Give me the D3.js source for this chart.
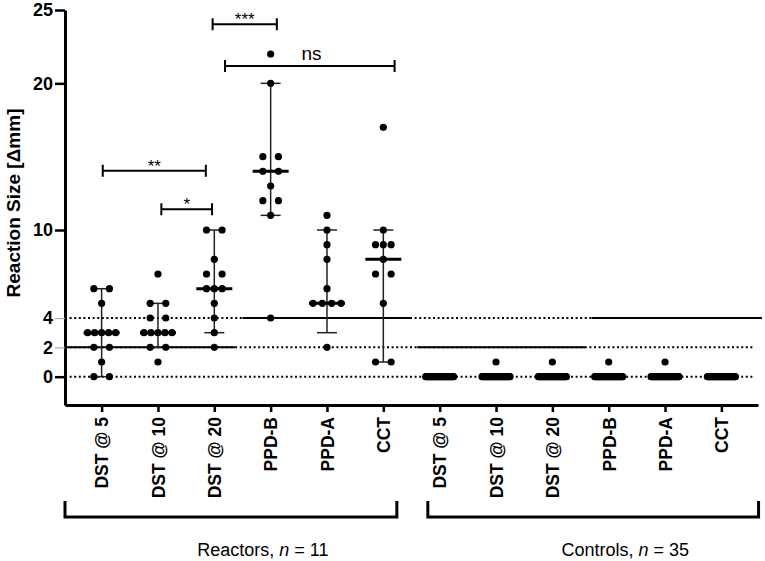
<!DOCTYPE html>
<html>
<head>
<meta charset="utf-8">
<script src="https://cdn.jsdelivr.net/npm/d3@7"></script>
<style>
  html, body { margin: 0; padding: 0; background: #fff; }
  svg { display: block; font-family: "Liberation Sans", Arial, Helvetica, sans-serif; }
</style>
</head>
<body>
<svg id="chart" width="765" height="561"></svg>
<script>
// ---------------- data ----------------
const categories = ["DST @ 5", "DST @ 10", "DST @ 20", "PPD-B", "PPD-A", "CCT"];
const groupNames = ["Reactors", "Controls"];
const groupN = [11, 35];

// Reactors: individual reaction sizes (mm)
const reactorDST5  = [6, 6, 5, 3, 3, 3, 3, 3, 2, 2, 1, 0, 0];
const reactorDST10 = [7, 5, 5, 4, 4, 3, 3, 3, 3, 3, 2, 2, 1];
const reactorDST20 = [10, 10, 8, 7, 7, 6, 6, 6, 5, 4, 3, 2];
const reactorPPDB  = [22, 20, 15, 15, 14, 14, 13, 12, 12, 11, 4];
const reactorPPDA  = [11, 10, 9, 8, 6, 5, 5, 5, 5, 2];
const reactorCCT   = [17, 10, 9, 9, 9, 8, 7, 7, 5, 1, 1];

// Controls: tallies of reaction sizes (count at 0 mm, count at 1 mm)
const controlCountAt0 = [35, 34, 34, 34, 34, 35];
const controlCountAt1 = [0, 1, 1, 1, 1, 0];

// Median and whisker limits per column (reactors then controls)
const medians     = [3, 3, 6, 14, 5, 8, 0, 0, 0, 0, 0, 0];
const whiskerLow  = [0, 2, 3, 11, 3, 1, 0, 0, 0, 0, 0, 0];
const whiskerHigh = [6, 5, 10, 20, 10, 10, 0, 0, 0, 0, 0, 0];

// Positivity cut-offs (mm): DST columns and PPD/CCT columns
const cutoffDST = 2;
const cutoffPPD = 4;

// Significance annotations
const sigLabels = ["**", "*", "***", "ns"];
const sigLevel  = [14.04, 11.41, 24.02, 21.18];

const yTicks = [0, 2, 4, 10, 20, 25];

// ---------------- layout ----------------
const svg = d3.select("#chart");
const font = '"Liberation Sans", Arial, Helvetica, sans-serif';

const x = d3.scaleLinear().domain([-0.65, 11.65]).range([65, 758]);
const y = d3.scaleLinear().domain([-1.93, 25]).range([405, 10]);

const reactorSets = [reactorDST5, reactorDST10, reactorDST20, reactorPPDB, reactorPPDA, reactorCCT];
const controlSets = controlCountAt0.map((c0, i) => {
  const arr = [];
  for (let k = 0; k < c0; k++) arr.push(0);
  for (let k = 0; k < controlCountAt1[i]; k++) arr.push(1);
  return arr;
});
const columns = reactorSets.concat(controlSets);

// dot layout: group identical values into rows and spread horizontally
const dotR = 3.6, dotStep = 7.8, maxSpread = 28;
const dots = [];
columns.forEach((vals, ci) => {
  const rows = d3.rollup(vals, v => v.length, d => d);
  rows.forEach((k, v) => {
    let span = (k - 1 + (k % 2 === 0 ? 1 : 0)) * dotStep;
    span = Math.min(span, maxSpread);
    for (let j = 0; j < k; j++) {
      const off = k === 1 ? 0 : -span / 2 + j * span / (k - 1);
      dots.push({ cx: x(ci) + off, cy: y(v) });
    }
  });
});

// ---------------- reference lines ----------------
const ref = svg.append("g");
[0, cutoffDST, cutoffPPD].forEach(v => {
  ref.append("line")
    .attr("x1", x(-0.65)).attr("x2", x(11.55))
    .attr("y1", y(v)).attr("y2", y(v))
    .attr("stroke", "#000").attr("stroke-width", 2)
    .attr("stroke-dasharray", "2,2.6");
});
const cutSegs = [
  { v: cutoffDST, a: -0.65, b: 2.37 },
  { v: cutoffPPD, a: 2.5,  b: 5.5 },
  { v: cutoffDST, a: 5.6,  b: 8.58 },
  { v: cutoffPPD, a: 8.7,  b: 11.72 }
];
cutSegs.forEach(s => {
  ref.append("line")
    .attr("x1", x(s.a)).attr("x2", x(s.b))
    .attr("y1", y(s.v)).attr("y2", y(s.v))
    .attr("stroke", "#000").attr("stroke-width", 2);
});

// ---------------- whiskers & medians ----------------
const stats = svg.append("g");
d3.range(12).forEach(i => {
  if (whiskerHigh[i] > whiskerLow[i]) {
    stats.append("line")
      .attr("x1", x(i)).attr("x2", x(i))
      .attr("y1", y(whiskerLow[i])).attr("y2", y(whiskerHigh[i]))
      .attr("stroke", "#222").attr("stroke-width", 1.5);
    [whiskerLow[i], whiskerHigh[i]].forEach(v => {
      stats.append("line")
        .attr("x1", x(i) - 10).attr("x2", x(i) + 10)
        .attr("y1", y(v)).attr("y2", y(v))
        .attr("stroke", "#222").attr("stroke-width", 1.5);
    });
    stats.append("line")
      .attr("x1", x(i) - 18).attr("x2", x(i) + 18)
      .attr("y1", y(medians[i])).attr("y2", y(medians[i]))
      .attr("stroke", "#000").attr("stroke-width", 3);
  }
});

// ---------------- dots ----------------
svg.append("g").selectAll("circle").data(dots).join("circle")
  .attr("cx", d => d.cx).attr("cy", d => d.cy).attr("r", dotR)
  .attr("fill", "#000");

// ---------------- axes ----------------
const yAxis = svg.append("g")
  .attr("transform", `translate(${x(-0.65)},0)`)
  .call(d3.axisLeft(y).tickValues(yTicks).tickSize(10).tickSizeOuter(0).tickPadding(2));
yAxis.select(".domain").attr("stroke-width", 3).attr("stroke", "#000");
yAxis.selectAll(".tick line")
  .attr("stroke", d => (d === 2 || d === 4) ? "#aaa" : "#000")
  .attr("stroke-width", d => (d === 2 || d === 4) ? 1.2 : 2.5);
yAxis.selectAll(".tick text")
  .attr("font-family", font).attr("font-size", 18).attr("font-weight", "bold").attr("fill", "#000");

const xAxis = svg.append("g")
  .attr("transform", `translate(0,${y(-1.93)})`)
  .call(d3.axisBottom(x).tickValues(d3.range(12)).tickFormat(i => categories[i % 6])
    .tickSize(7).tickSizeOuter(0).tickPadding(0));
xAxis.select(".domain").attr("stroke-width", 3).attr("stroke", "#000");
xAxis.selectAll(".tick line").attr("stroke-width", 2.5).attr("stroke", "#000");
xAxis.selectAll(".tick text")
  .attr("font-family", font).attr("font-size", 17.5).attr("font-weight", "bold").attr("fill", "#000")
  .attr("text-anchor", "end")
  .attr("transform", "translate(0,12) rotate(-90)")
  .attr("x", 0).attr("y", 0).attr("dy", "0.36em");

// y-axis title
svg.append("text")
  .attr("transform", "translate(13,203) rotate(-90)")
  .attr("text-anchor", "middle").attr("dy", "0.36em")
  .attr("font-family", font).attr("font-size", 19).attr("font-weight", "bold")
  .text("Reaction Size [\u0394mm]");

// ---------------- significance brackets ----------------
const sigFrom = [0.02, 1.06, 1.97, 2.19];
const sigTo   = [1.85, 1.96, 3.11, 5.2];
const sig = svg.append("g");
sigLabels.forEach((lab, i) => {
  const yy = y(sigLevel[i]);
  const x1 = x(sigFrom[i]), x2 = x(sigTo[i]);
  sig.append("path")
    .attr("d", `M${x1},${yy - 6}V${yy + 6}M${x1},${yy}H${x2}M${x2},${yy - 6}V${yy + 6}`)
    .attr("fill", "none").attr("stroke", "#000").attr("stroke-width", 2);
  const isNs = lab === "ns";
  sig.append("text")
    .attr("x", isNs ? 311.5 : (x1 + x2) / 2)
    .attr("y", isNs ? yy - 6 : yy + 1)
    .attr("text-anchor", "middle")
    .attr("font-family", font)
    .attr("font-size", isNs ? 19 : 17)
    .text(lab);
});

// ---------------- group brackets ----------------
const groupSpan = [[-0.65, 5.24], [5.79, 11.66]];
const gb = svg.append("g");
groupSpan.forEach((s, gi) => {
  const x1 = x(s[0]), x2 = x(s[1]);
  gb.append("path")
    .attr("d", `M${x1},501V517H${x2}V501`)
    .attr("fill", "none").attr("stroke", "#000").attr("stroke-width", 3);
  const t = gb.append("text")
    .attr("x", (x1 + x2) / 2 + 32).attr("y", 556)
    .attr("text-anchor", "middle")
    .attr("font-family", font).attr("font-size", 18).attr("fill", "#000");
  t.append("tspan").text(groupNames[gi] + ", ");
  t.append("tspan").attr("font-style", "italic").text("n");
  t.append("tspan").text(" = " + groupN[gi]);
});
</script>
</body>
</html>
